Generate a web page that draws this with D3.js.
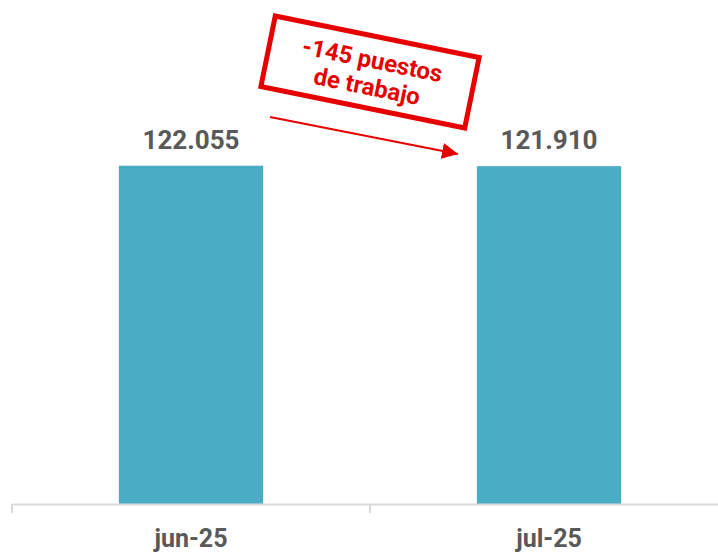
<!DOCTYPE html>
<html>
<head>
<meta charset="utf-8">
<script src="https://cdn.jsdelivr.net/npm/d3@7"></script>
<style>
  body { margin: 0; background: #fff; }
  svg { display: block; font-family: Roboto, "Liberation Sans", sans-serif; }
</style>
</head>
<body>
<svg></svg>
<script>
const width = 718,
  height = 552;

// Chart data
const categories = ["jun-25", "jul-25"];
const values = [122055, 121910];
const noteLines = ["-145 puestos", "de trabajo"];

const gray = "#595959",
  red = "#e60000",
  barColor = "#4bacc6";

const svg = d3.select("svg")
  .attr("width", width)
  .attr("height", height);

// Spanish style thousands separator
const fmt = d3.formatLocale({ decimal: ",", thousands: ".", grouping: [3], currency: ["", ""] }).format(",d");

const x = d3.scaleBand()
  .domain(categories)
  .range([12, 728])
  .paddingInner(0)
  .paddingOuter(0);

const y = d3.scaleLinear()
  .domain([0, 140000])
  .range([504, 116]);

const barW = x.bandwidth() * 0.403;

// Bars
svg.selectAll("rect.bar")
  .data(values)
  .enter()
  .append("rect")
  .attr("class", "bar")
  .attr("x", (d, i) => x(categories[i]) + (x.bandwidth() - barW) / 2)
  .attr("y", d => y(d))
  .attr("width", barW)
  .attr("height", d => y(0) - y(d))
  .attr("fill", barColor);

// Value labels
svg.selectAll("text.value")
  .data(values)
  .enter()
  .append("text")
  .attr("class", "value")
  .attr("x", (d, i) => x(categories[i]) + x.bandwidth() / 2)
  .attr("y", d => y(d) - 17)
  .attr("text-anchor", "middle")
  .attr("fill", gray)
  .style("font-size", "26px")
  .style("font-weight", "bold")
  .text(d => fmt(d));

// X axis
const axis = svg.append("g")
  .attr("transform", "translate(0," + y(0) + ")")
  .call(d3.axisBottom(x).tickSizeInner(0).tickSizeOuter(0).tickPadding(25));

axis.select(".domain").attr("stroke", "#d9d9d9").attr("stroke-width", 2);
axis.selectAll(".tick text")
  .attr("fill", gray)
  .style("font-size", "25px")
  .style("font-weight", "bold")
  .style("font-family", "Roboto, sans-serif");

// Category separators
axis.selectAll("line.sep")
  .data(categories)
  .enter()
  .append("line")
  .attr("class", "sep")
  .attr("x1", d => x(d))
  .attr("x2", d => x(d))
  .attr("y1", 0)
  .attr("y2", 9)
  .attr("stroke", "#d9d9d9")
  .attr("stroke-width", 2);

// Annotation box
const note = svg.append("g")
  .attr("transform", "translate(370,72) rotate(11.5)");

note.append("rect")
  .attr("x", -104)
  .attr("y", -36)
  .attr("width", 208)
  .attr("height", 72)
  .attr("fill", "#fff")
  .attr("stroke", red)
  .attr("stroke-width", 5);

note.selectAll("text")
  .data(noteLines)
  .enter()
  .append("text")
  .attr("x", 0)
  .attr("y", (d, i) => -4 + i * 27)
  .attr("text-anchor", "middle")
  .attr("fill", red)
  .style("font-size", "24px")
  .style("font-weight", "bold")
  .text(d => d);

// Arrow
svg.append("defs").append("marker")
  .attr("id", "arrow")
  .attr("viewBox", "0 0 10 10")
  .attr("refX", 10)
  .attr("refY", 5)
  .attr("markerWidth", 8)
  .attr("markerHeight", 8)
  .attr("markerUnits", "strokeWidth")
  .attr("orient", "auto")
  .append("path")
  .attr("d", "M0,0 L10,5 L0,10 Z")
  .attr("fill", red);

svg.append("line")
  .attr("x1", 270)
  .attr("y1", 117)
  .attr("x2", 458)
  .attr("y2", 154)
  .attr("stroke", red)
  .attr("stroke-width", 2)
  .attr("marker-end", "url(#arrow)");
</script>
</body>
</html>
